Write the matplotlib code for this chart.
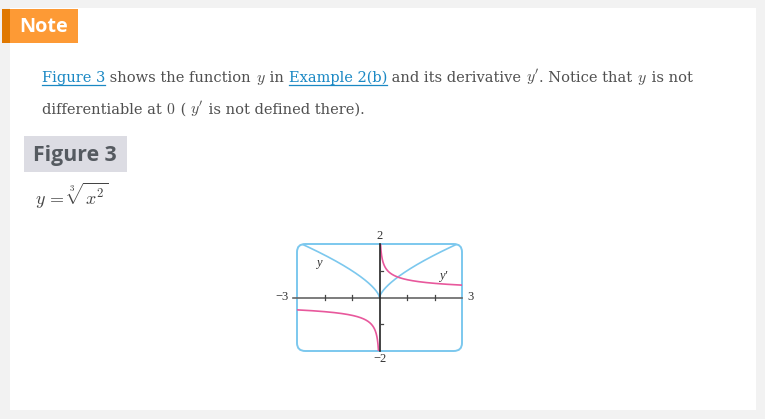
import matplotlib.pyplot as plt
import numpy as np
from matplotlib.patches import Rectangle, FancyBboxPatch

plt.rcParams['mathtext.fontset'] = 'cm'

# page text
note_title = "Note"
line1 = [("Figure 3", "link"), (" shows the function ", "text"), ("$y$", "math"),
         (" in ", "text"), ("Example 2(b)", "link"), (" and its derivative ", "text"),
         ("$y'$", "math"), (". Notice that ", "text"), ("$y$", "math"), (" is not", "text")]
line2 = [("differentiable at ", "text"), ("$0$", "math"), (" ( ", "text"), ("$y'$", "math"),
         (" is not defined there).", "text")]
figure_label = "Figure 3"
formula = r"$y\,=\,\sqrt[3]{x^2}$"

# graph values
x_range = [-3, 3]
y_range = [-2, 2]
x_ticks = [-2, -1, 1, 2]
y_ticks = [-1, 1]
x_end_labels = ["\u22123", "3"]
y_end_labels = ["2", "\u22122"]
curve_labels = [("y", -2.2, 1.3), ("y\u2032", 2.33, 0.82)]

W, H = 765, 419
fig = plt.figure(figsize=(W / 100, H / 100), dpi=100)
fig.patch.set_facecolor('#f2f2f2')
bg = fig.add_axes([0, 0, 1, 1])
bg.set_xlim(0, W)
bg.set_ylim(H, 0)
bg.axis('off')

bg.add_patch(Rectangle((10, 8), 746, 402, facecolor='white', edgecolor='none'))
bg.add_patch(Rectangle((2, 9), 8, 34.5, facecolor='#e07800', edgecolor='none'))
bg.add_patch(Rectangle((10, 9), 68, 34.5, facecolor='#fd9a35', edgecolor='none'))
bg.text(19, 27, note_title, color='white', fontsize=14.3, fontweight='bold',
        family='Open Sans', va='center', ha='left')

renderer = fig.canvas.get_renderer()
text_color = '#505050'
link_color = '#1a88c4'


def draw_line(pieces, x0, baseline, size):
    x = x0
    for s, kind in pieces:
        color = link_color if kind == 'link' else text_color
        fs = size * 1.08 if kind == 'math' else size
        t = bg.text(x, baseline, s, fontsize=fs, family='DejaVu Serif',
                    color=color, va='baseline', ha='left')
        w = t.get_window_extent(renderer).width
        if kind == 'link':
            bg.plot([x, x + w], [baseline + 3, baseline + 3], color=link_color, lw=0.9)
        x += w
    return x


draw_line(line1, 42, 82, 10.5)
draw_line(line2, 42, 114, 10.5)

bg.add_patch(Rectangle((24, 136), 103, 36, facecolor='#dcdce3', edgecolor='none'))
bg.text(33, 155, figure_label, color='#555a60', fontsize=15.3, fontweight='bold',
        family='Open Sans', va='center', ha='left')
bg.text(35, 205, formula, color='#444444', fontsize=13, va='baseline', ha='left')

# graph
left, right, top, bottom = 297, 462, 244, 351
ax = fig.add_axes([left / W, (H - bottom) / H, (right - left) / W, (bottom - top) / H])
ax.set_xlim(*x_range)
ax.set_ylim(*y_range)
ax.axis('off')

box = FancyBboxPatch((x_range[0], y_range[0]), x_range[1] - x_range[0], y_range[1] - y_range[0],
                     boxstyle='round,pad=0,rounding_size=0.3', facecolor='none',
                     edgecolor='#7cc8ee', lw=1.4, clip_on=False)
ax.add_patch(box)

blue = '#7cc8ee'
pink = '#e8589c'
xs = np.linspace(x_range[0], x_range[1], 801)
ax.plot(xs, np.cbrt(xs ** 2), color=blue, lw=1.2, clip_path=box)
xp = np.linspace(0.001, 3, 600)
xn = -xp[::-1]
ax.plot(xp, (2 / 3) / np.cbrt(xp), color=pink, lw=1.2, clip_path=box)
ax.plot(xn, (2 / 3) / np.cbrt(xn), color=pink, lw=1.2, clip_path=box)

ax.plot([x_range[0] - 0.15, x_range[1]], [0, 0], color='#666666', lw=1.2, clip_on=False)
ax.plot([0, 0], y_range, color='#222222', lw=1.2, clip_on=False)
for t in x_ticks:
    ax.plot([t, t], [-0.09, 0.09], color='#444444', lw=0.9)
for t in y_ticks:
    ax.plot([0, 0.12], [t, t], color='#444444', lw=0.9)

lab = dict(family='Liberation Serif', fontsize=9, color='#333333')
ax.text(x_range[0] - 0.3, 0, x_end_labels[0], ha='right', va='center', clip_on=False, **lab)
ax.text(x_range[1] + 0.2, 0, x_end_labels[1], ha='left', va='center', clip_on=False, **lab)
ax.text(0, y_range[1] + 0.08, y_end_labels[0], ha='center', va='bottom', clip_on=False, **lab)
ax.text(0, y_range[0] - 0.08, y_end_labels[1], ha='center', va='top', clip_on=False, **lab)
for s, lx, ly in curve_labels:
    ax.text(lx, ly, s, ha='center', va='center', style='italic', **lab)

fig.savefig('out.png', dpi=100, facecolor=fig.get_facecolor())
